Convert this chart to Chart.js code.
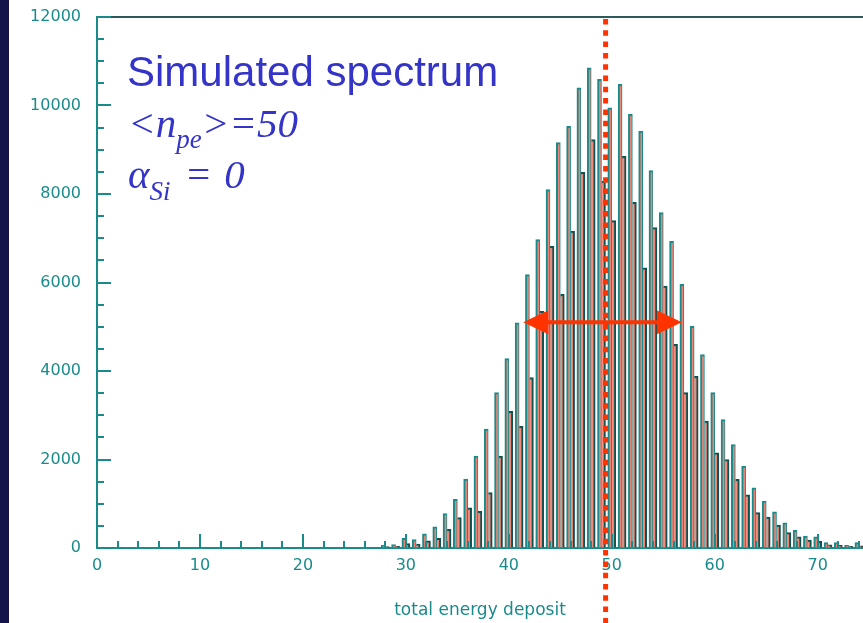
<!DOCTYPE html>
<html lang="en">
<head>
<meta charset="UTF-8">
<title>Simulated spectrum</title>
<script src="https://cdn.jsdelivr.net/npm/chart.js"></script>
<style>
  html, body { margin: 0; padding: 0; background: #fff; overflow: hidden; }
  #wrap { position: relative; width: 863px; height: 623px; }
  #stripe { position: absolute; left: 0; top: 0; width: 9px; height: 623px; background: #14134a; }
</style>
</head>
<body>
<div id="wrap">
  <canvas id="spectrum" width="863" height="623"></canvas>
  <div id="stripe"></div>
</div>
<script>
// photo-electron peaks, one spike per integer
const energyBins = [28, 29, 30, 31, 32, 33, 34, 35, 36, 37, 38, 39, 40, 41, 42, 43, 44, 45, 46, 47, 48, 49, 50, 51,
                    52, 53, 54, 55, 56, 57, 58, 59, 60, 61, 62, 63, 64, 65, 66, 67, 68, 69, 70, 71, 72, 73, 74];
const peakCounts = [60, 80, 220, 190, 320, 480, 780, 1100, 1560, 2080, 2690, 3510, 4280, 5090, 6180, 6970, 8100, 9160,
                    9530, 10400, 10850, 10590, 9950, 10480, 9800, 9420, 8530, 7580, 6930, 5960, 5010, 4370, 3510, 2900,
                    2340, 1850, 1360, 1060, 820, 570, 400, 270, 250, 120, 120, 60, 120];
const shoulderCounts = [30, 40, 100, 90, 160, 220, 420, 690, 910, 830, 1250, 2080, 3090, 2750, 3850, 5350, 6820, 5730,
                        7160, 8490, 9230, 8290, 7400, 8850, 7810, 6330, 7240, 5920, 4600, 3510, 3880, 2870, 2150, 2000,
                        1550, 1200, 800, 700, 520, 350, 250, 180, 150, 70, 60, 40, 50];

const xTickValues = [0, 10, 20, 30, 40, 50, 60, 70];
const yTickValues = [0, 2000, 4000, 6000, 8000, 10000, 12000];
const xMinorStep = 2;
const yMinorStep = 500;

const meanMarker = 49.4;
const fwhmEdges = [41.4, 56.8];
const fwhmLevel = 5100;

const teal = '#1a8b8b';
const salmon = 'rgba(248,128,110,0.9)';
const red = '#ff3300';
const blue = '#3434c8';

const overlay = {
  id: 'overlay',
  afterDatasetsDraw(chart) {
    const { ctx, chartArea, scales: { x, y } } = chart;
    ctx.save();

    // top frame
    ctx.strokeStyle = '#2c5a5a';
    ctx.lineWidth = 2;
    ctx.beginPath();
    ctx.moveTo(chartArea.left, chartArea.top);
    ctx.lineTo(chartArea.right, chartArea.top);
    ctx.stroke();

    // inward ticks
    ctx.strokeStyle = teal;
    ctx.lineWidth = 2;
    ctx.beginPath();
    for (let v = y.min; v <= y.max; v += yMinorStep) {
      const py = Math.round(y.getPixelForValue(v));
      const len = yTickValues.includes(v) ? 14 : 7;
      ctx.moveTo(chartArea.left, py);
      ctx.lineTo(chartArea.left + len, py);
    }
    for (let v = x.min; v <= x.max; v += xMinorStep) {
      const px = Math.round(x.getPixelForValue(v));
      const len = xTickValues.includes(v) ? 14 : 7;
      ctx.moveTo(px, chartArea.bottom);
      ctx.lineTo(px, chartArea.bottom - len);
    }
    ctx.stroke();

    // dotted mean line
    const mx = x.getPixelForValue(meanMarker);
    ctx.strokeStyle = red;
    ctx.lineWidth = 5;
    ctx.setLineDash([5.5, 5.8]);
    ctx.beginPath();
    ctx.moveTo(mx, chartArea.top + 2);
    ctx.lineTo(mx, chart.height);
    ctx.stroke();
    ctx.setLineDash([]);

    // width arrow
    const ay = y.getPixelForValue(fwhmLevel);
    const x0 = x.getPixelForValue(fwhmEdges[0]);
    const x1 = x.getPixelForValue(fwhmEdges[1]);
    const headL = 25, headH = 12;
    ctx.lineWidth = 4;
    ctx.beginPath();
    ctx.moveTo(x0 + headL - 2, ay);
    ctx.lineTo(x1 - headL + 2, ay);
    ctx.stroke();
    ctx.fillStyle = red;
    ctx.beginPath();
    ctx.moveTo(x0, ay);
    ctx.lineTo(x0 + headL, ay - headH);
    ctx.lineTo(x0 + headL, ay + headH);
    ctx.closePath();
    ctx.fill();
    ctx.beginPath();
    ctx.moveTo(x1, ay);
    ctx.lineTo(x1 - headL, ay - headH);
    ctx.lineTo(x1 - headL, ay + headH);
    ctx.closePath();
    ctx.fill();

    ctx.restore();
  },
  afterDraw(chart) {
    const ctx = chart.ctx;
    ctx.save();
    ctx.fillStyle = blue;
    ctx.textBaseline = 'alphabetic';
    ctx.font = '42px "Liberation Sans", Arial, sans-serif';
    ctx.fillText('Simulated spectrum', 127, 86);

    const big = 'italic 41px "Liberation Serif", "Times New Roman", serif';
    const small = 'italic 27px "Liberation Serif", "Times New Roman", serif';
    // [text, font, baseline shift, extra gap after]
    function runs(x, base, parts) {
      for (const [t, f, dy, gap] of parts) {
        ctx.font = f;
        ctx.fillText(t, x, base + dy);
        x += ctx.measureText(t).width + (gap || 0);
      }
    }
    runs(128, 137, [['<', big, 0], ['n', big, 0], ['pe', small, 11], ['>=50', big, 0]]);
    runs(128, 188, [['\u03b1', big, 0], ['Si', small, 12, 14], ['=', big, 0, 12], ['0', big, 0]]);
    ctx.restore();
  }
};

const ctx = document.getElementById('spectrum').getContext('2d');
new Chart(ctx, {
  type: 'bar',
  data: {
    datasets: [
      {
        label: 'peak',
        data: energyBins.map((e, i) => ({ x: e, y: peakCounts[i] })),
        backgroundColor: salmon,
        borderColor: teal,
        borderWidth: { left: 2, top: 2, right: 1 },
        borderSkipped: 'bottom',
        barThickness: 4
      },
      {
        label: 'shoulder',
        data: energyBins.map((e, i) => ({ x: e, y: shoulderCounts[i] })),
        backgroundColor: salmon,
        borderColor: '#0f5252',
        borderWidth: { top: 2, right: 2 },
        borderSkipped: 'bottom',
        barThickness: 4
      }
    ]
  },
  options: {
    responsive: false,
    animation: false,
    layout: { padding: { left: 0, top: 17, right: 0, bottom: 0 } },
    plugins: { legend: { display: false }, tooltip: { enabled: false } },
    scales: {
      x: {
        type: 'linear',
        min: 0,
        max: 74.4,
        offset: false,
        grid: { drawOnChartArea: false, drawTicks: false, offset: false },
        border: { display: true, color: teal, width: 2 },
        ticks: {
          includeBounds: false,
          padding: 8,
          color: teal,
          font: { family: 'DejaVu Sans', size: 16 },
          maxRotation: 0,
          callback: (v) => String(v)
        },
        afterBuildTicks: (scale) => { scale.ticks = xTickValues.map(v => ({ value: v })); },
        afterFit: (scale) => { scale.height = 75; scale.paddingLeft = 0; scale.paddingRight = 0; },
        title: {
          display: true,
          text: 'total energy deposit',
          color: teal,
          font: { family: 'DejaVu Sans', size: 17 },
          padding: { top: 0, bottom: 2 }
        }
      },
      y: {
        min: 0,
        max: 12000,
        grid: { drawOnChartArea: false, drawTicks: false },
        border: { display: true, color: teal, width: 2 },
        ticks: {
          padding: 16,
          color: teal,
          font: { family: 'DejaVu Sans', size: 16 },
          callback: (v) => String(v)
        },
        afterBuildTicks: (scale) => { scale.ticks = yTickValues.map(v => ({ value: v })); },
        afterFit: (scale) => { scale.width = 97; scale.paddingTop = 0; scale.paddingBottom = 0; }
      }
    }
  },
  plugins: [overlay]
});
</script>
</body>
</html>
